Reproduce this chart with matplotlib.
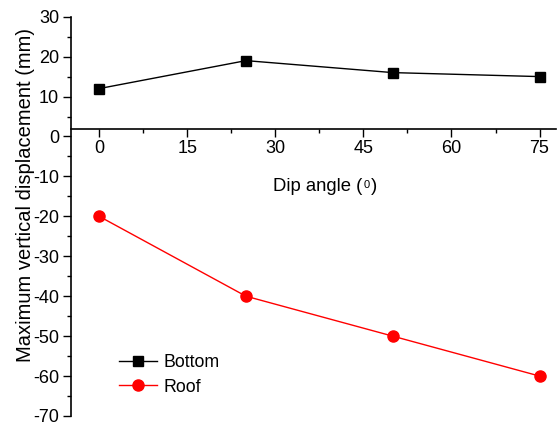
import matplotlib
matplotlib.use("Agg")
import matplotlib.pyplot as plt
from matplotlib.ticker import MultipleLocator

plt.rcParams['font.family'] = ['Liberation Sans', 'DejaVu Sans']
plt.rcParams['axes.unicode_minus'] = False

dip_angle = [0, 25, 50, 75]
bottom = [12, 19, 16, 15]
roof = [-20, -40, -50, -60]
xticks = [0, 15, 30, 45, 60, 75]
yticks = [-70, -60, -50, -40, -30, -20, -10, 0, 10, 20, 30]

fig = plt.figure(figsize=(5.59, 4.26), dpi=100)
ax = fig.add_axes([71/559, 1-416/426, (556-71)/559, (416-16.7)/426])

ax.plot(dip_angle, bottom, color='black', lw=1, marker='s', markersize=7, label='Bottom')
ax.plot(dip_angle, roof, color='red', lw=1, marker='o', markersize=8, label='Roof')

ax.set_xlim(-4.8, 77.8)
ax.set_ylim(-70, 30)
ax.spines['top'].set_visible(False)
ax.spines['right'].set_visible(False)
ax.spines['bottom'].set_position(('data', 2))
ax.spines['left'].set_linewidth(1.2)
ax.spines['bottom'].set_linewidth(1.2)

ax.set_xticks(xticks)
ax.set_yticks(yticks)
ax.xaxis.set_minor_locator(MultipleLocator(7.5))
ax.yaxis.set_minor_locator(MultipleLocator(5))
ax.tick_params(axis='both', which='major', direction='out', length=5.5, width=1, labelsize=13)
ax.tick_params(axis='both', which='minor', direction='out', length=3, width=1)
ax.tick_params(axis='y', pad=3)
ax.tick_params(axis='x', pad=3)

# x-axis title with small raised "0"
t1 = ax.text(29.6, -12.5, 'Dip angle (', fontsize=13.3, ha='left', va='center')
t2 = ax.annotate('0', xy=(1, 0.86), xycoords=t1, xytext=(1, 0), textcoords='offset points',
                 fontsize=8, ha='left', va='top')
t3 = ax.annotate(')', xy=(1, 0), xycoords=(t2, t1), xytext=(1, 0), textcoords='offset points',
                 fontsize=13.3, ha='left', va='bottom')

ax.set_ylabel('Maximum vertical displacement (mm)', fontsize=14.5)
ax.yaxis.set_label_coords(-0.074, (416-195)/399.3)

ax.legend(loc='lower left', bbox_to_anchor=(0.066, 0.011), frameon=False, fontsize=12.8,
          handlelength=2.15, handletextpad=0.35, labelspacing=0.42)

fig.savefig('out.png', dpi=100)
